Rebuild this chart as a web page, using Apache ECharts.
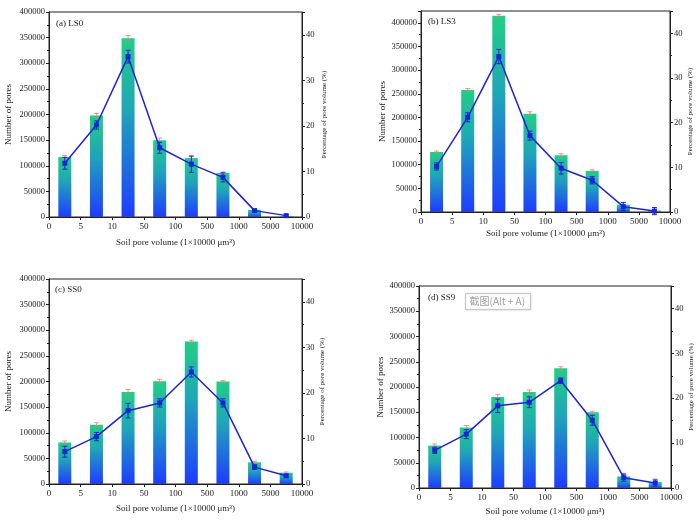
<!DOCTYPE html>
<html><head><meta charset="utf-8">
<script src="https://cdn.jsdelivr.net/npm/echarts@6/dist/echarts.min.js"></script>
<style>html,body{margin:0;padding:0;background:#fff}#c{width:700px;height:521px}</style>
</head><body><div id="c"></div>
<script>
const xTicks = ['0','5','10','50','100','500','1000','5000','10000'];
const panelLabels = ['(a) LS0','(b) LS3','(c) SS0','(d) SS9'];

const ls0Pores = [117000,198000,349000,150000,115000,86000,14000,2000];
const ls0PoresErr = [3000,4000,5000,4000,3000,2000,1000,500];
const ls0Pct = [11.8,20.2,35.2,15.2,11.6,8.7,1.4,0.3];
const ls0PctErr = [1.3,0.9,1.4,1.2,1.8,1.0,0.3,0.2];

const ls3Pores = [127000,258000,415000,208000,120000,87000,15500,3000];
const ls3PoresErr = [2000,3000,3000,4000,3000,2000,5000,1000];
const ls3Pct = [10.2,21.2,34.8,17.1,9.8,7.1,1.2,0.2];
const ls3PctErr = [0.8,1.0,1.6,1.0,1.3,0.8,0.9,0.8];

const ss0Pores = [81000,115500,179500,200300,278000,200000,42400,22000];
const ss0PoresErr = [3000,4000,5000,4000,2500,1500,2000,1500];
const ss0Pct = [7.1,10.4,16.1,17.8,24.6,17.8,3.7,1.8];
const ss0PctErr = [1.2,0.9,1.6,0.9,1.1,0.9,0.5,0.3];

const ss9Pores = [84000,119700,180000,190000,237000,150000,23000,11800];
const ss9PoresErr = [3000,4000,5000,4000,3000,2000,6000,6000];
const ss9Pct = [8.4,12.0,18.3,19.1,23.9,15.1,2.3,1.1];
const ss9PctErr = [0.7,1.0,1.5,1.2,0.6,1.1,0.8,0.7];

const panels = [
  {pores: ls0Pores, poresErr: ls0PoresErr, pct: ls0Pct, pctErr: ls0PctErr, leftMax: 400000},
  {pores: ls3Pores, poresErr: ls3PoresErr, pct: ls3Pct, pctErr: ls3PctErr, leftMax: 425000},
  {pores: ss0Pores, poresErr: ss0PoresErr, pct: ss0Pct, pctErr: ss0PctErr, leftMax: 400000},
  {pores: ss9Pores, poresErr: ss9PoresErr, pct: ss9Pct, pctErr: ss9PctErr, leftMax: 400000}
];

const layout = [
  {grid:{left:49,right:398,top:12,bottom:304}, lg:36, rg:19, xg:21, lab:[56,19]},
  {grid:{left:421,right:30,top:11,bottom:309}, lg:34, rg:16, xg:17, lab:[428,17]},
  {grid:{left:49,right:398,top:279,bottom:37}, lg:36, rg:17, xg:20, lab:[55,285]},
  {grid:{left:419,right:29,top:286,bottom:33}, lg:34, rg:16, xg:19, lab:[428,293]}
];

const FONT = 'Liberation Serif';
const axisLine = {show:true, lineStyle:{color:'#222', width:1}};
const grids=[], xAxes=[], yAxes=[], series=[], graphics=[];

function errRender(color, capW, lw){
  return function(params, api){
    const x = api.value(0), lo = api.value(1), hi = api.value(2);
    const p1 = api.coord([x, lo]), p2 = api.coord([x, hi]);
    const st = {stroke: color, lineWidth: lw};
    return {type:'group', children:[
      {type:'line', shape:{x1:p1[0],y1:p1[1],x2:p2[0],y2:p2[1]}, style:st},
      {type:'line', shape:{x1:p1[0]-capW,y1:p1[1],x2:p1[0]+capW,y2:p1[1]}, style:st},
      {type:'line', shape:{x1:p2[0]-capW,y1:p2[1],x2:p2[0]+capW,y2:p2[1]}, style:st}
    ]};
  };
}

panels.forEach((p, i) => {
  const L = layout[i];
  grids.push(Object.assign({show:true, borderColor:'#222', borderWidth:1, containLabel:false}, L.grid));
  xAxes.push({type:'value', gridIndex:i, min:0, max:8, interval:1,
    name:'Soil pore volume (1×10000 μm³)', nameLocation:'middle', nameGap:L.xg,
    nameTextStyle:{fontFamily:FONT, fontSize:9, color:'#222'},
    axisLine:axisLine, axisTick:{show:true, inside:false, length:3, lineStyle:{color:'#222'}},
    splitLine:{show:false},
    axisLabel:{fontFamily:FONT, fontSize:9, color:'#222', margin:5, formatter:v => xTicks[Math.round(v)]}
  });
  yAxes.push({type:'value', gridIndex:i, position:'left', min:0, max:p.leftMax, interval:50000,
    name:'Number of pores', nameLocation:'middle', nameGap:L.lg,
    nameTextStyle:{fontFamily:FONT, fontSize:9, color:'#222'},
    axisLine:axisLine, axisTick:{show:true, length:3, lineStyle:{color:'#222'}},
    minorTick:{show:true, splitNumber:2, length:2, lineStyle:{color:'#222'}},
    splitLine:{show:false},
    axisLabel:{fontFamily:FONT, fontSize:8.5, color:'#222', margin:4, showMaxLabel: p.leftMax===400000,
      formatter: v => String(v)}
  });
  yAxes.push({type:'value', gridIndex:i, position:'right', min:0, max:45, interval:10,
    name:'Percentage of pore volume (%)', nameLocation:'middle', nameGap:L.rg,
    nameTextStyle:{fontFamily:FONT, fontSize:7, color:'#222'},
    axisLine:axisLine, axisTick:{show:true, length:3, lineStyle:{color:'#222'}},
    minorTick:{show:true, splitNumber:2, length:2, lineStyle:{color:'#222'}},
    splitLine:{show:false},
    axisLabel:{fontFamily:FONT, fontSize:8.5, color:'#222', margin:4, showMaxLabel:false}
  });
  const ly = 2*i, ry = 2*i+1;
  const xs = p.pores.map((_, k) => k + 0.5);
  series.push({type:'bar', xAxisIndex:i, yAxisIndex:ly, barWidth:13,
    data: p.pores.map((v,k)=>[xs[k], v]),
    itemStyle:{color:{type:'linear', x:0, y:0, x2:0, y2:1, colorStops:[
      {offset:0, color:'#20cf84'}, {offset:0.4, color:'#1fa6b8'}, {offset:1, color:'#1e3cff'}]}},
    z:2});
  series.push({type:'custom', xAxisIndex:i, yAxisIndex:ly, renderItem: errRender('#ff6e6e', 2.5, 0.8),
    data: p.pores.map((v,k)=>[xs[k], v - p.poresErr[k], v + p.poresErr[k]]), z:3});
  series.push({type:'line', xAxisIndex:i, yAxisIndex:ry, data: p.pct.map((v,k)=>[xs[k], v]),
    symbol:'rect', symbolSize:5, lineStyle:{color:'#1f22d8', width:1.5},
    itemStyle:{color:'#1f22d8'}, z:5});
  series.push({type:'custom', xAxisIndex:i, yAxisIndex:ry, renderItem: errRender('#1f22d8', 2.5, 1),
    data: p.pct.map((v,k)=>[xs[k], v - p.pctErr[k], v + p.pctErr[k]]), z:6});
  graphics.push({type:'text', left:L.lab[0], top:L.lab[1],
    style:{text:panelLabels[i], font:'9px "Liberation Serif"', fill:'#222'}});
});

graphics.push({type:'group', left:465, top:293, children:[
  {type:'rect', shape:{x:0,y:0,width:65,height:16}, style:{fill:'#fff', stroke:'#c8c8c8', lineWidth:1, shadowBlur:2, shadowColor:'rgba(0,0,0,0.15)'}},
  {type:'text', x:4, y:3, style:{text:'截图(Alt + A)', font:'10px "Noto Sans CJK SC"', fill:'#a0a0a0'}}
]});

const chart = echarts.init(document.getElementById('c'), null, {renderer:'canvas'});
chart.setOption({animation:false, grid:grids, xAxis:xAxes, yAxis:yAxes, series:series, graphic:graphics});
</script></body></html>
